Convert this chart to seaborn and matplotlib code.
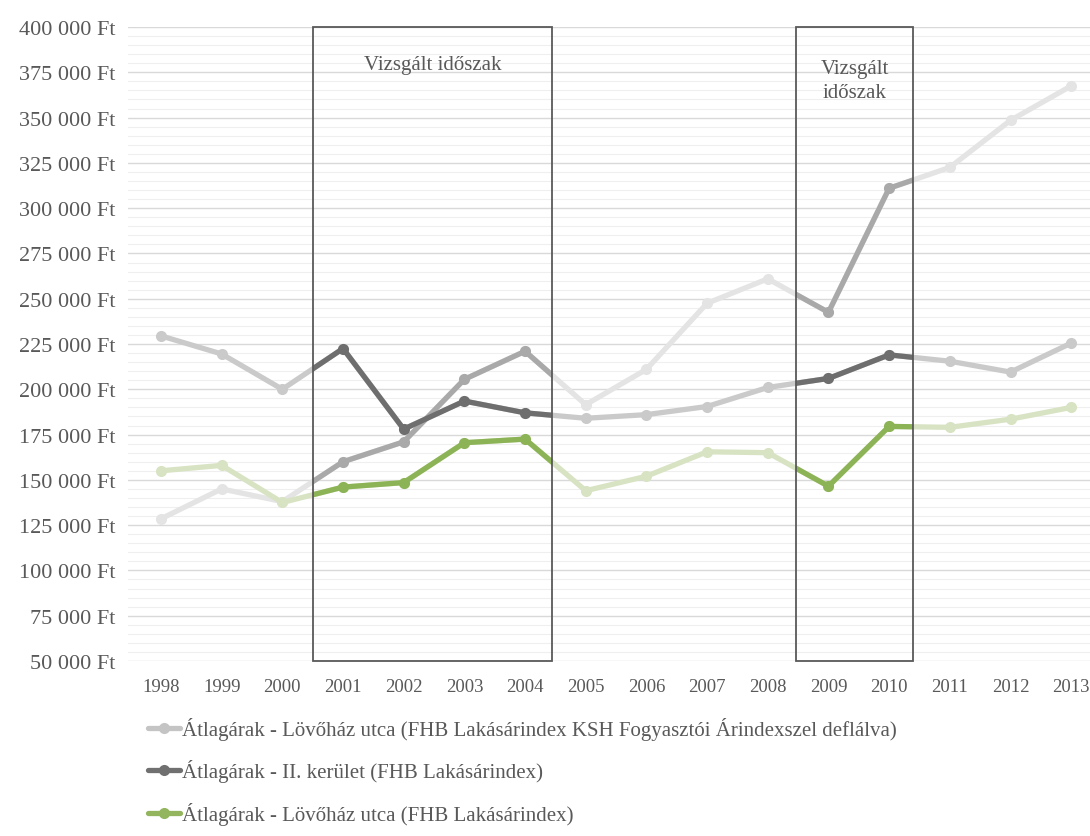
import numpy as np
import pandas as pd
import seaborn as sns
import matplotlib.pyplot as plt
from matplotlib.patches import Rectangle
from matplotlib.lines import Line2D
from matplotlib.ticker import FuncFormatter, MultipleLocator

# data
years = list(range(1998, 2014))
deflated = [128500, 145000, 138000, 160000, 171000, 205500, 221000, 191500,
            211000, 247500, 261000, 242500, 311000, 322500, 348500, 367500]
district = [229500, 219500, 200000, 222500, 178000, 193500, 187000, 184000,
            186000, 190500, 201000, 206000, 219000, 215500, 209500, 225500]
street = [155000, 158000, 137500, 146000, 148500, 170500, 172500, 144000,
          152000, 165500, 165000, 146500, 179500, 179000, 183500, 190000]
series_names = [
    "Átlagárak - Lövőház utca (FHB Lakásárindex KSH Fogyasztói Árindexszel deflálva)",
    "Átlagárak - II. kerület (FHB Lakásárindex)",
    "Átlagárak - Lövőház utca (FHB Lakásárindex)",
]
periods = [(2000.5, 2004.45), (2008.46, 2010.4)]
period_labels = ["Vizsgált időszak", "Vizsgált\nidőszak"]

light = ["#e4e4e4", "#cacaca", "#d8e3c3"]
dark = ["#a9a9a9", "#6e6e6e", "#8db357"]
legend_colors = ["#c4c4c4", "#707070", "#92b55e"]
text_color = "#595959"

df = pd.DataFrame({
    "year": years * 3,
    "value": deflated + district + street,
    "series": np.repeat(series_names, len(years)),
})

sns.set_style("white")
plt.rcParams["font.family"] = ["Liberation Serif", "DejaVu Serif"]

fig = plt.figure(figsize=(10.9, 8.37), dpi=100)
ax = fig.add_axes([0.1174, 0.2091, 0.8826, 0.7574])

line_kw = dict(marker="o", markersize=8, linewidth=3.8, markeredgewidth=0, legend=False)

# full series in the light colours
sns.lineplot(data=df, x="year", y="value", hue="series", hue_order=series_names,
             palette=dict(zip(series_names, light)), ax=ax, zorder=3, **line_kw)

# darker colours only inside the examined periods
for (x0, x1), lab in zip(periods, period_labels):
    n = len(ax.lines)
    sns.lineplot(data=df, x="year", y="value", hue="series", hue_order=series_names,
                 palette=dict(zip(series_names, dark)), ax=ax, zorder=4, **line_kw)
    clip = Rectangle((x0, 50000), x1 - x0, 350000, fill=False, lw=0, transform=ax.transData)
    for ln in ax.lines[n:]:
        ln.set_clip_path(clip)
    ax.add_patch(Rectangle((x0, 50000), x1 - x0, 350000, fill=False,
                           ec=text_color, lw=1.3, zorder=6, clip_on=False))
    ty = 379500 if "\n" not in lab else 370500
    ax.text((x0 + x1) / 2, ty, lab, ha="center", va="center", fontsize=15,
            color=text_color, linespacing=1.3, zorder=7)

ax.set_xlim(1997.456, 2013.31)
ax.set_ylim(50000, 400000)
ax.set_xticks(years)
ax.yaxis.set_major_locator(MultipleLocator(25000))
ax.yaxis.set_minor_locator(MultipleLocator(5000))
ax.yaxis.set_major_formatter(FuncFormatter(lambda v, p: f"{int(v):,}".replace(",", " ") + " Ft"))
ax.grid(which="major", axis="y", color="#d9d9d9", lw=1.0)
ax.grid(which="minor", axis="y", color="#efefef", lw=0.8)
ax.grid(which="both", axis="x", visible=False)
ax.tick_params(which="both", length=0)
ax.tick_params(axis="y", labelsize=16, labelcolor=text_color, pad=9)
ax.tick_params(axis="x", labelsize=13.5, labelcolor=text_color, pad=12)
ax.set_xlabel("")
ax.set_ylabel("")
for s in ax.spines.values():
    s.set_visible(False)

handles = [Line2D([], [], color=c, lw=3.8, marker="o", markersize=8, markeredgewidth=0)
           for c in legend_colors]
fig.legend(handles, series_names, loc="upper left", bbox_to_anchor=(0.128, 0.152),
           frameon=False, fontsize=15, handlelength=1.55, handletextpad=0.1,
           labelspacing=0.93, labelcolor=text_color, borderaxespad=0)

fig.savefig("out.png", dpi=100)
